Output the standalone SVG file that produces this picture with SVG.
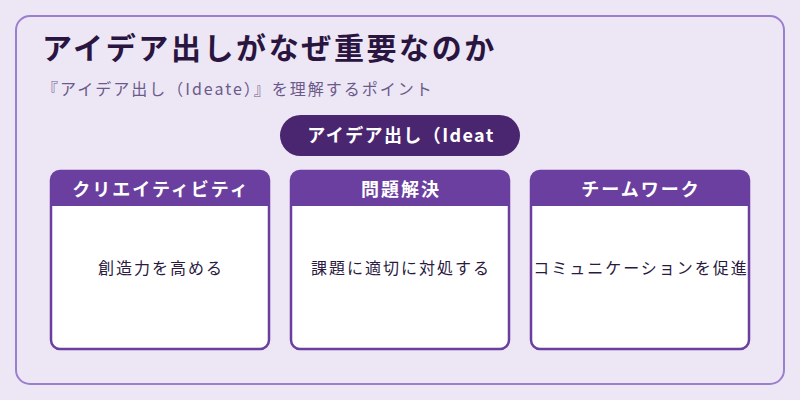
<svg xmlns="http://www.w3.org/2000/svg" width="800" height="400" viewBox="0 0 800 400">
<style>
.jp{font-family:"Noto Sans CJK JP","Noto Sans",sans-serif}
.card{fill:#ffffff;stroke:#6b3fa0;stroke-width:2.5}
.hdr{fill:#6b3fa0}
.ht{fill:#ffffff;font-size:18px;font-weight:bold;text-anchor:middle;letter-spacing:2px}
.bt{fill:#2a1a40;font-size:16px;text-anchor:middle;letter-spacing:2px}
</style>
<rect x="0" y="0" width="800" height="400" fill="#ede6f5"/>
<rect x="16" y="16" width="768" height="368" rx="14" fill="#ede6f5" stroke="#9b7fcf" stroke-width="2"/>
<text class="jp" x="42" y="59" font-size="30" font-weight="bold" fill="#2a1540" letter-spacing="2.6">アイデア出しがなぜ重要なのか</text>
<text class="jp" x="42" y="95" font-size="16" fill="#6a5a8a" letter-spacing="2">『アイデア出し（Ideate）』を理解するポイント</text>
<g id="center">
<rect x="280" y="115" width="240" height="41" rx="20.5" fill="#4a2670"/>
<text class="jp" x="401" y="142" font-size="18" font-weight="bold" fill="#ffffff" text-anchor="middle" letter-spacing="1.4">アイデア出し（Ideat</text>
</g>
<g id="connectors"></g>
<g id="card1">
<rect class="card" x="51" y="171" width="218" height="178" rx="9"/>
<path class="hdr" d="M51 206 V180 a9 9 0 0 1 9 -9 H260 a9 9 0 0 1 9 9 V206 Z"/>
<text class="jp ht" x="161" y="196">クリエイティビティ</text>
<text class="jp bt" x="161" y="274">創造力を高める</text>
</g>
<g id="card2">
<rect class="card" x="291" y="171" width="218" height="178" rx="9"/>
<path class="hdr" d="M291 206 V180 a9 9 0 0 1 9 -9 H500 a9 9 0 0 1 9 9 V206 Z"/>
<text class="jp ht" x="401" y="196">問題解決</text>
<text class="jp bt" x="401" y="274">課題に適切に対処する</text>
</g>
<g id="card3">
<rect class="card" x="531" y="171" width="218" height="178" rx="9"/>
<path class="hdr" d="M531 206 V180 a9 9 0 0 1 9 -9 H740 a9 9 0 0 1 9 9 V206 Z"/>
<text class="jp ht" x="641" y="196">チームワーク</text>
<text class="jp bt" x="641" y="274">コミュニケーションを促進</text>
</g>
</svg>
